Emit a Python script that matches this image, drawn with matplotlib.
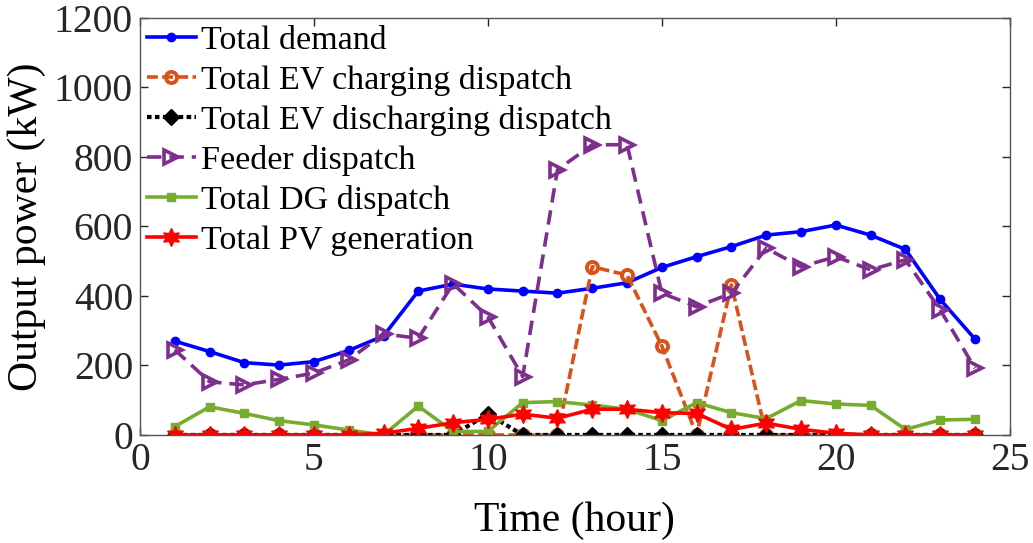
import matplotlib.pyplot as plt

plt.rcParams['font.family'] = ['Liberation Serif', 'DejaVu Serif']
plt.rcParams['mathtext.fontset'] = 'stix'

hours = list(range(1, 25))

total_demand = [270, 240, 208, 201, 211, 243, 285, 414, 434, 420, 414, 408,
                422, 438, 482, 513, 542, 575, 585, 604, 575, 534, 390, 276]
ev_charging = [0, 0, 0, 0, 0, 0, 0, 0, 0, 0, 0, 0,
               484, 460, 256, 0, 432, 0, 0, 0, 0, 0, 0, 0]
ev_discharging = [0, 0, 0, 0, 0, 0, 0, 0, 0, 60, 0, 0,
                  0, 0, 0, 0, 0, 0, 0, 0, 0, 0, 0, 0]
feeder = [245, 153, 144, 160, 178, 216, 291, 278, 435, 340, 168, 763,
          835, 835, 408, 369, 408, 537, 484, 513, 475, 504, 360, 192]
dg = [24, 81, 62, 41, 29, 14, 0, 83, 10, 10, 93, 96,
      86, 74, 41, 93, 64, 47, 99, 89, 85, 16, 43, 45]
pv = [0, 0, 0, 0, 0, 0, 5, 19, 35, 45, 60, 48,
      74, 74, 64, 62, 16, 34, 16, 5, 0, 0, 0, 0]

fig = plt.figure(figsize=(10.33, 5.43), dpi=100)
ax = fig.add_axes([0.1355, 0.199, 0.842, 0.768])

lw = 2.6
ax.plot(hours, total_demand, '-o', color='#0000FF', lw=lw, ms=6,
        label='Total demand')
ax.plot(hours, ev_charging, '--o', color='#D95319', lw=lw, ms=8,
        mfc='none', mew=2.8, dashes=(3, 1.2), label='Total EV charging dispatch')
ax.plot(hours, ev_discharging, 'D', ls=(0, (1.1, 0.8)), color='black',
        lw=lw + 0.4, ms=8, dash_capstyle='butt',
        label='Total EV discharging dispatch')
ax.plot(hours, feeder, '-->', color='#7E2F8E', lw=lw, ms=10,
        mfc='none', mew=2.6, dashes=(4, 2.2), label='Feeder dispatch')
ax.plot(hours, dg, '-s', color='#77AC30', lw=lw, ms=6,
        label='Total DG dispatch')
ax.plot(hours, pv, '-', marker=(6, 1, 0), color='#FF0000', lw=lw, ms=13,
        label='Total PV generation')

ax.set_xlim(0, 25)
ax.set_ylim(0, 1200)
ax.set_xticks([0, 5, 10, 15, 20, 25])
ax.set_yticks(range(0, 1201, 200))
ax.tick_params(direction='in', top=True, right=True, labelsize=28.5,
               length=6, width=1, colors='#262626', pad=5)
for s in ax.spines.values():
    s.set_color('#555555')
    s.set_linewidth(1)

ax.set_xlabel('Time (hour)', fontsize=30, labelpad=16)
ax.set_ylabel('Output power (kW)', fontsize=30, labelpad=6)

ax.legend(loc='upper left', frameon=False, fontsize=24.5, handlelength=1.45,
          handletextpad=0.15, labelspacing=0.27, borderaxespad=0.1,
          borderpad=0.1)

fig.savefig('out.png', dpi=100)
